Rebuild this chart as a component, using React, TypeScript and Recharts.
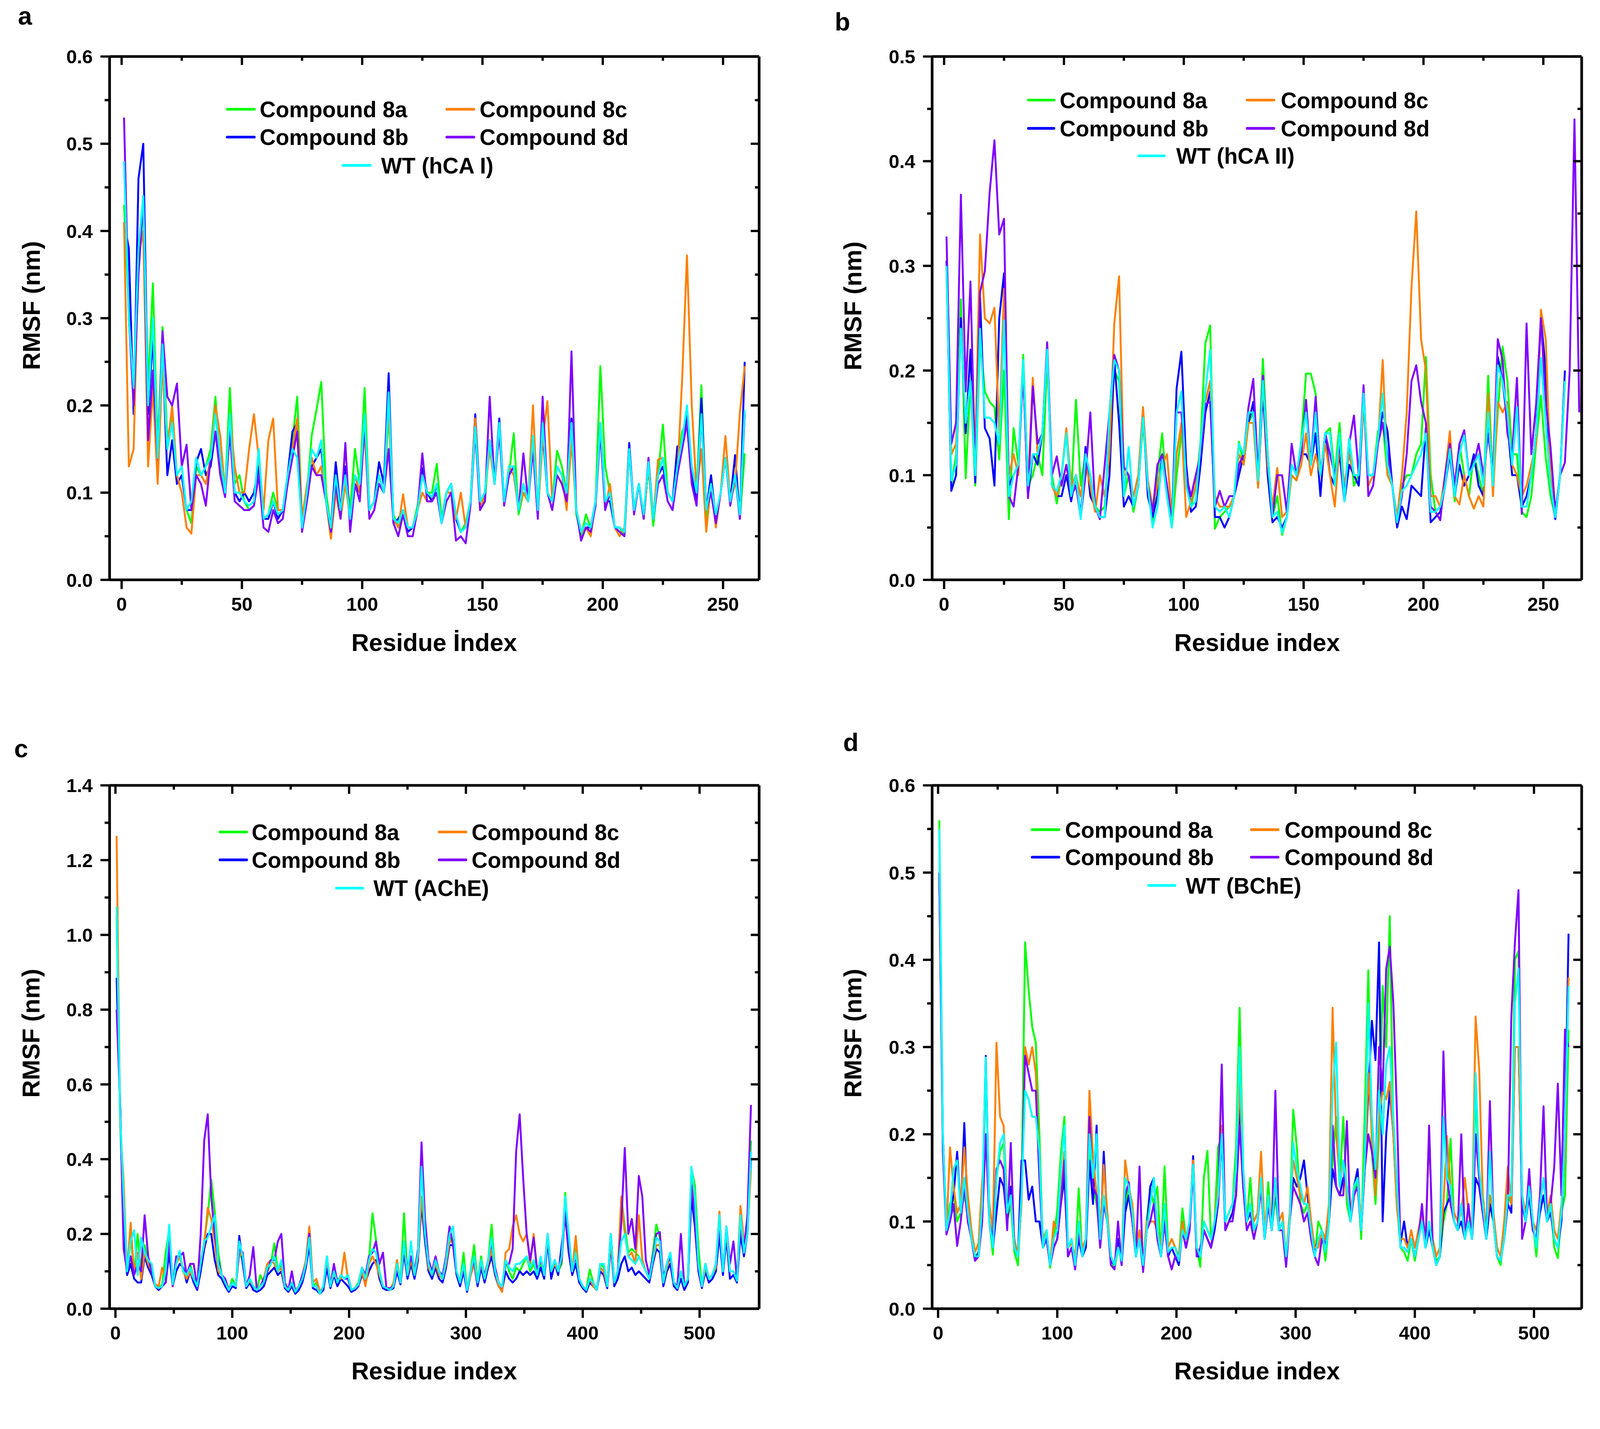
import React from 'react';
import { LineChart, Line, XAxis, YAxis } from 'recharts';

const FONT = '"Liberation Sans", Arial, Helvetica, sans-serif';
const COL_8A = '#00FF00';
const COL_8B = '#0000FF';
const COL_8C = '#FF8000';
const COL_8D = '#8000FF';
const COL_WT = '#00FFFF';

// ---------- Panel a : hCA I (residues 1,3,5,... step 2) ----------
const hcaI_start = 1;
const hcaI_step = 2;
const hcaI_8a = [
.43,.31,.20,.35,.43,.22,.34,.15,.29,.16,
.19,.11,.12,.08,.065,.13,.12,.13,.15,.21,
.13,.10,.22,.11,.12,.09,.08,.085,.14,.07,
.075,.10,.08,.08,.115,.16,.21,.07,.10,.165,
.195,.227,.10,.06,.13,.08,.13,.08,.15,.11,
.22,.08,.09,.11,.10,.19,.075,.06,.08,.055,
.06,.085,.12,.10,.10,.133,.07,.10,.11,.07,
.055,.065,.09,.17,.085,.09,.16,.11,.17,.09,
.12,.168,.075,.10,.09,.165,.08,.17,.10,.09,
.148,.13,.10,.17,.075,.05,.075,.06,.09,.245,
.13,.10,.06,.06,.05,.15,.08,.11,.075,.13,
.062,.12,.178,.10,.09,.13,.17,.18,.12,.10,
.223,.07,.11,.07,.10,.14,.09,.12,.07,.145];
const hcaI_8b = [
.41,.38,.19,.46,.50,.19,.28,.13,.26,.12,
.16,.11,.12,.08,.08,.135,.15,.12,.13,.17,
.14,.10,.17,.10,.09,.10,.09,.10,.13,.07,
.07,.09,.07,.08,.12,.17,.18,.06,.09,.13,
.14,.15,.09,.06,.135,.08,.13,.07,.11,.10,
.18,.08,.09,.135,.11,.237,.065,.07,.08,.055,
.06,.08,.128,.10,.09,.11,.065,.10,.11,.07,
.055,.06,.09,.19,.09,.10,.16,.11,.185,.09,
.12,.13,.08,.11,.09,.16,.08,.17,.10,.09,
.13,.12,.10,.185,.08,.055,.06,.06,.09,.18,
.09,.09,.06,.06,.055,.157,.08,.11,.07,.13,
.07,.12,.13,.10,.09,.153,.15,.19,.12,.09,
.208,.08,.12,.07,.10,.14,.09,.143,.07,.25];
const hcaI_8c = [
.41,.13,.15,.37,.40,.13,.22,.11,.25,.15,
.20,.12,.10,.06,.053,.12,.12,.11,.14,.20,
.165,.10,.19,.13,.10,.10,.15,.19,.14,.08,
.16,.185,.08,.08,.11,.15,.185,.07,.108,.14,
.12,.13,.09,.047,.10,.07,.11,.07,.12,.10,
.17,.07,.08,.12,.10,.20,.07,.06,.098,.06,
.06,.08,.10,.09,.09,.10,.065,.10,.10,.07,
.10,.06,.09,.185,.08,.10,.15,.11,.17,.09,
.13,.12,.08,.10,.09,.20,.075,.16,.205,.09,
.13,.12,.08,.16,.08,.055,.06,.05,.09,.18,
.08,.11,.06,.05,.06,.15,.08,.11,.07,.13,
.07,.138,.14,.10,.09,.12,.23,.372,.20,.10,
.15,.055,.11,.06,.10,.165,.09,.11,.192,.245];
const hcaI_8d = [
.53,.30,.20,.35,.44,.16,.24,.14,.285,.21,
.20,.225,.13,.155,.08,.12,.11,.085,.14,.17,
.12,.095,.17,.09,.085,.08,.08,.085,.12,.06,
.055,.08,.065,.07,.11,.14,.17,.055,.09,.13,
.12,.12,.09,.055,.11,.07,.157,.055,.11,.09,
.18,.07,.08,.11,.10,.15,.065,.05,.075,.05,
.05,.08,.145,.09,.09,.10,.065,.09,.10,.045,
.05,.042,.085,.17,.08,.09,.21,.11,.17,.085,
.12,.13,.08,.145,.09,.15,.07,.21,.10,.08,
.12,.11,.09,.262,.08,.045,.06,.055,.085,.17,
.08,.10,.06,.055,.05,.15,.075,.11,.07,.14,
.07,.11,.12,.09,.08,.12,.15,.18,.11,.085,
.19,.08,.10,.065,.10,.14,.085,.12,.07,.19];
const hcaI_WT = [
.48,.30,.22,.38,.44,.20,.30,.14,.27,.15,
.18,.12,.13,.08,.09,.14,.12,.13,.14,.19,
.14,.10,.19,.10,.10,.09,.085,.09,.15,.07,
.075,.09,.075,.08,.12,.15,.14,.06,.10,.15,
.14,.16,.09,.06,.12,.08,.12,.07,.12,.11,
.19,.08,.09,.12,.10,.215,.07,.065,.08,.06,
.06,.08,.12,.10,.095,.11,.065,.10,.11,.075,
.055,.06,.09,.175,.09,.10,.16,.11,.18,.09,
.13,.13,.08,.11,.09,.165,.08,.18,.10,.09,
.13,.12,.10,.18,.08,.055,.065,.06,.09,.18,
.09,.10,.06,.06,.055,.15,.08,.11,.075,.135,
.07,.12,.14,.10,.09,.13,.16,.20,.13,.10,
.19,.08,.11,.075,.10,.14,.09,.12,.075,.195];

// ---------- Panel b : hCA II (residues 1,3,5,... step 2) ----------
const hcaII_start = 1;
const hcaII_step = 2;
const hcaII_8a = [
.30,.09,.12,.268,.097,.19,.09,.23,.18,.17,
.165,.115,.20,.058,.145,.11,.215,.09,.10,.12,
.10,.21,.10,.073,.10,.14,.08,.172,.09,.12,
.10,.07,.065,.07,.14,.20,.19,.08,.10,.065,
.09,.15,.09,.055,.10,.14,.08,.05,.10,.14,
.10,.07,.09,.132,.226,.243,.049,.06,.065,.07,
.08,.132,.11,.15,.16,.10,.211,.12,.06,.08,
.043,.06,.10,.095,.133,.197,.197,.178,.10,.14,
.145,.10,.15,.08,.135,.09,.10,.18,.10,.10,
.142,.15,.10,.09,.055,.09,.10,.10,.12,.13,
.213,.10,.065,.07,.09,.13,.075,.13,.10,.08,
.12,.10,.08,.195,.09,.16,.223,.19,.12,.12,
.065,.06,.08,.13,.176,.117,.08,.06,.10,.19];
const hcaII_8b = [
.305,.085,.10,.25,.14,.22,.093,.27,.145,.135,
.09,.25,.293,.09,.10,.11,.20,.08,.12,.11,
.14,.22,.09,.08,.08,.10,.075,.10,.06,.127,
.08,.07,.06,.06,.10,.21,.15,.07,.08,.07,
.09,.16,.08,.06,.08,.12,.08,.055,.183,.218,
.11,.065,.07,.11,.16,.18,.06,.06,.05,.06,
.08,.10,.12,.15,.17,.09,.18,.10,.055,.06,
.05,.06,.11,.10,.12,.12,.11,.14,.08,.14,
.10,.09,.12,.075,.11,.10,.09,.17,.10,.10,
.13,.16,.142,.09,.05,.07,.058,.09,.085,.08,
.145,.055,.06,.065,.09,.12,.08,.11,.09,.10,
.12,.09,.08,.16,.09,.213,.19,.15,.10,.10,
.07,.08,.10,.14,.25,.20,.09,.058,.10,.20];
const hcaII_8c = [
.30,.12,.13,.24,.15,.19,.12,.33,.25,.245,
.26,.14,.278,.10,.12,.10,.21,.09,.193,.12,
.14,.22,.09,.08,.10,.145,.09,.10,.08,.11,
.09,.065,.10,.08,.12,.245,.29,.10,.10,.08,
.10,.165,.095,.07,.09,.11,.12,.06,.12,.15,
.06,.075,.09,.13,.17,.19,.08,.07,.07,.07,
.08,.12,.11,.15,.15,.088,.19,.11,.07,.107,
.06,.065,.10,.095,.11,.14,.10,.12,.10,.13,
.10,.07,.13,.09,.12,.10,.10,.17,.09,.10,
.13,.21,.10,.09,.06,.10,.16,.28,.352,.23,
.20,.08,.08,.07,.10,.142,.08,.072,.10,.08,
.068,.08,.07,.178,.08,.17,.16,.17,.11,.10,
.08,.09,.11,.13,.258,.23,.10,.065,.10,.19];
const hcaII_8d = [
.328,.13,.15,.368,.18,.285,.10,.275,.295,.37,
.42,.33,.345,.08,.07,.11,.20,.078,.185,.13,
.14,.227,.10,.118,.09,.11,.08,.09,.06,.10,
.16,.07,.058,.11,.16,.215,.20,.108,.10,.07,
.09,.155,.09,.065,.11,.12,.09,.055,.16,.16,
.10,.08,.10,.12,.168,.17,.07,.085,.07,.08,
.08,.11,.12,.165,.192,.10,.195,.12,.06,.10,
.10,.065,.13,.10,.12,.172,.11,.175,.10,.14,
.12,.10,.13,.08,.13,.157,.10,.186,.08,.09,
.13,.15,.12,.09,.055,.08,.12,.19,.205,.17,
.15,.07,.065,.057,.10,.13,.09,.13,.143,.10,
.11,.13,.10,.14,.10,.23,.21,.14,.12,.193,
.063,.245,.12,.168,.25,.17,.127,.065,.10,.112,
.20,.44,.16];
const hcaII_WT = [
.30,.095,.11,.24,.15,.19,.10,.24,.155,.155,
.15,.13,.248,.08,.10,.11,.21,.09,.12,.12,
.14,.22,.09,.085,.10,.14,.08,.10,.058,.12,
.10,.07,.06,.06,.16,.21,.20,.08,.127,.07,
.09,.155,.09,.05,.07,.115,.08,.05,.16,.18,
.09,.07,.075,.13,.18,.22,.07,.065,.07,.06,
.08,.13,.12,.16,.16,.095,.19,.12,.06,.065,
.045,.06,.11,.10,.13,.16,.11,.16,.10,.14,
.14,.09,.14,.075,.135,.10,.10,.178,.10,.10,
.135,.178,.11,.09,.055,.085,.09,.10,.11,.12,
.14,.065,.065,.07,.09,.125,.08,.12,.138,.10,
.11,.12,.09,.16,.09,.205,.19,.16,.11,.165,
.07,.07,.10,.14,.212,.15,.09,.06,.10,.19];

// ---------- Panel c : AChE (residues 1,4,7,... step 3) ----------
const ache_start = 1;
const ache_step = 3;
const ache_8a = [
1.05,.50,.25,.10,.20,.09,.20,.09,.17,.12,
.11,.06,.055,.065,.15,.21,.07,.12,.15,.10,
.08,.12,.08,.06,.12,.18,.25,.345,.26,.15,
.09,.07,.05,.08,.06,.15,.13,.06,.08,.06,
.05,.09,.07,.10,.12,.175,.10,.12,.06,.05,
.07,.045,.06,.08,.12,.19,.06,.07,.04,.06,
.13,.06,.10,.07,.09,.08,.09,.05,.055,.07,
.11,.08,.13,.255,.185,.10,.06,.055,.05,.06,
.12,.07,.255,.09,.13,.09,.15,.30,.20,.12,
.09,.13,.09,.08,.13,.19,.18,.10,.07,.15,
.05,.10,.17,.07,.14,.08,.13,.225,.10,.07,
.06,.13,.10,.08,.11,.10,.12,.14,.10,.12,
.09,.12,.09,.20,.09,.13,.10,.12,.31,.18,
.10,.16,.08,.06,.05,.105,.07,.05,.12,.11,
.06,.20,.07,.10,.30,.22,.15,.16,.15,.14,
.12,.10,.08,.15,.225,.19,.07,.12,.15,.07,
.055,.10,.06,.08,.375,.33,.165,.06,.12,.08,
.09,.12,.25,.10,.20,.10,.10,.075,.26,.15,
.22,.45];
const ache_8b = [
.885,.55,.20,.09,.12,.08,.07,.07,.14,.11,
.09,.06,.05,.06,.07,.15,.06,.10,.12,.11,
.07,.10,.07,.05,.10,.16,.20,.20,.13,.09,
.08,.06,.045,.06,.055,.195,.12,.055,.07,.05,
.045,.05,.06,.09,.10,.11,.09,.10,.055,.045,
.06,.04,.05,.07,.11,.17,.055,.05,.04,.05,
.11,.055,.09,.06,.08,.07,.06,.045,.05,.06,
.09,.07,.10,.12,.13,.08,.055,.05,.05,.055,
.10,.065,.15,.08,.12,.08,.13,.28,.18,.10,
.08,.11,.08,.07,.11,.17,.17,.09,.06,.10,
.045,.09,.12,.06,.11,.07,.11,.14,.09,.06,
.05,.10,.08,.07,.08,.10,.09,.10,.09,.10,
.08,.11,.08,.18,.08,.12,.09,.17,.25,.15,
.09,.12,.07,.055,.045,.07,.06,.05,.10,.09,
.055,.17,.06,.08,.12,.14,.10,.11,.09,.10,
.09,.08,.07,.12,.16,.15,.06,.10,.12,.06,
.05,.08,.05,.07,.30,.22,.10,.055,.10,.07,
.08,.10,.20,.09,.19,.08,.09,.07,.20,.14,
.20,.40];
const ache_8c = [
1.265,.50,.34,.10,.23,.09,.15,.08,.15,.12,
.10,.065,.06,.11,.08,.22,.06,.12,.14,.10,
.08,.10,.08,.06,.13,.17,.27,.24,.18,.10,
.09,.07,.05,.07,.06,.15,.14,.06,.075,.06,
.05,.06,.08,.12,.13,.12,.10,.11,.06,.05,
.07,.05,.06,.09,.13,.22,.07,.08,.045,.06,
.13,.07,.09,.08,.08,.15,.08,.05,.055,.06,
.10,.06,.12,.14,.12,.09,.06,.055,.05,.07,
.13,.07,.17,.09,.13,.09,.14,.30,.20,.11,
.09,.12,.09,.08,.12,.18,.18,.10,.07,.11,
.05,.09,.12,.07,.12,.08,.12,.16,.10,.06,
.045,.15,.16,.22,.25,.20,.18,.20,.12,.20,
.10,.13,.10,.19,.10,.12,.10,.13,.27,.17,
.10,.195,.08,.06,.05,.08,.06,.05,.11,.10,
.06,.18,.07,.10,.30,.20,.14,.15,.12,.25,
.13,.10,.08,.13,.17,.17,.07,.11,.14,.07,
.055,.10,.06,.08,.35,.25,.11,.06,.11,.08,
.09,.11,.26,.10,.21,.10,.10,.08,.275,.18,
.21,.37];
const ache_8d = [
.80,.55,.16,.10,.14,.09,.12,.10,.25,.14,
.10,.06,.055,.06,.07,.18,.06,.14,.14,.15,
.09,.12,.12,.055,.20,.45,.52,.30,.20,.13,
.09,.08,.05,.07,.06,.16,.15,.06,.09,.165,
.05,.06,.08,.10,.13,.13,.18,.20,.07,.05,
.10,.045,.06,.09,.12,.20,.06,.06,.04,.06,
.14,.06,.12,.07,.09,.08,.08,.05,.055,.06,
.11,.09,.14,.15,.18,.12,.15,.055,.055,.06,
.11,.07,.18,.10,.14,.10,.16,.445,.24,.13,
.10,.14,.10,.09,.14,.22,.17,.10,.07,.11,
.05,.10,.13,.07,.12,.09,.13,.18,.11,.07,
.06,.12,.12,.16,.42,.52,.35,.20,.13,.19,
.10,.13,.10,.20,.10,.13,.10,.13,.27,.17,
.10,.14,.08,.06,.05,.08,.07,.05,.12,.12,
.06,.20,.07,.10,.23,.43,.20,.24,.16,.355,
.30,.13,.09,.14,.20,.205,.08,.12,.14,.07,
.06,.20,.06,.08,.33,.25,.11,.06,.12,.08,
.09,.12,.22,.10,.22,.12,.18,.08,.22,.16,
.25,.545];
const ache_WT = [
1.075,.52,.30,.10,.18,.21,.09,.19,.15,.13,
.12,.06,.055,.06,.10,.225,.065,.12,.155,.10,
.09,.11,.08,.06,.12,.18,.19,.22,.25,.12,
.09,.07,.05,.07,.06,.18,.14,.06,.08,.06,
.05,.06,.07,.11,.12,.14,.10,.13,.06,.05,
.07,.045,.06,.08,.12,.19,.06,.06,.04,.06,
.14,.06,.10,.07,.09,.08,.09,.05,.055,.065,
.11,.08,.13,.16,.15,.10,.06,.055,.05,.06,
.12,.07,.18,.09,.18,.09,.15,.38,.20,.12,
.09,.13,.10,.08,.13,.20,.22,.10,.07,.12,
.05,.10,.14,.07,.13,.08,.13,.19,.10,.07,
.06,.13,.11,.10,.12,.12,.13,.14,.11,.13,
.09,.14,.09,.20,.10,.13,.10,.14,.30,.20,
.10,.15,.08,.06,.05,.08,.07,.05,.12,.12,
.06,.20,.07,.10,.18,.20,.14,.13,.12,.14,
.12,.10,.08,.13,.19,.18,.07,.12,.15,.07,
.055,.10,.06,.08,.38,.30,.12,.06,.12,.08,
.09,.12,.25,.10,.22,.10,.10,.075,.25,.15,
.20,.42];

// ---------- Panel d : BChE (residues 1,4,7,... step 3) ----------
const bche_start = 1;
const bche_step = 3;
const bche_8a = [
.56,.20,.09,.12,.13,.10,.11,.13,.11,.08,
.06,.065,.10,.28,.10,.062,.15,.18,.19,.10,
.12,.065,.05,.13,.42,.365,.323,.305,.20,.07,
.09,.047,.08,.113,.178,.22,.07,.08,.05,.138,
.06,.08,.19,.14,.12,.08,.12,.10,.06,.045,
.07,.055,.12,.14,.11,.06,.08,.05,.10,.138,
.12,.14,.06,.163,.07,.08,.07,.06,.115,.08,
.10,.16,.07,.048,.15,.181,.08,.10,.185,.20,
.10,.11,.12,.185,.345,.16,.10,.15,.09,.10,
.15,.08,.145,.09,.13,.09,.10,.06,.10,.228,
.185,.12,.11,.12,.08,.06,.10,.09,.055,.10,
.17,.22,.14,.22,.12,.10,.13,.15,.08,.225,
.388,.18,.12,.20,.37,.30,.45,.20,.12,.07,
.065,.055,.08,.055,.08,.10,.07,.09,.07,.055,
.06,.10,.12,.195,.10,.09,.12,.08,.10,.08,
.25,.15,.12,.08,.12,.10,.06,.05,.09,.13,
.12,.40,.41,.13,.11,.14,.10,.06,.12,.15,
.10,.12,.07,.058,.11,.13,.32];
const bche_8b = [
.50,.20,.09,.11,.13,.18,.11,.213,.10,.08,
.055,.065,.11,.29,.10,.07,.11,.15,.14,.10,
.14,.07,.06,.17,.17,.125,.14,.10,.10,.07,
.08,.05,.07,.08,.12,.15,.06,.07,.05,.08,
.06,.07,.17,.12,.21,.07,.18,.10,.055,.05,
.08,.05,.11,.13,.10,.06,.08,.045,.09,.14,
.15,.08,.06,.10,.06,.07,.06,.05,.09,.07,
.09,.175,.06,.06,.09,.08,.07,.09,.12,.20,
.09,.10,.11,.13,.23,.14,.10,.11,.09,.10,
.14,.08,.12,.09,.14,.09,.10,.06,.10,.15,
.14,.15,.17,.13,.09,.065,.08,.09,.07,.10,
.16,.14,.13,.15,.14,.10,.14,.16,.09,.16,
.25,.33,.285,.42,.10,.20,.25,.20,.12,.075,
.10,.07,.08,.06,.08,.10,.07,.09,.07,.05,
.06,.11,.12,.13,.10,.09,.10,.08,.10,.08,
.15,.14,.11,.08,.12,.10,.06,.055,.08,.12,
.11,.30,.30,.12,.10,.13,.09,.08,.11,.13,
.10,.11,.08,.07,.10,.20,.43];
const bche_8c = [
.50,.20,.09,.185,.14,.11,.12,.185,.13,.09,
.065,.075,.147,.20,.12,.09,.305,.22,.21,.12,
.12,.08,.06,.12,.30,.28,.30,.27,.16,.08,
.09,.05,.10,.09,.13,.18,.07,.075,.06,.10,
.07,.08,.25,.175,.13,.08,.165,.11,.06,.05,
.07,.06,.17,.14,.12,.07,.09,.05,.10,.10,
.10,.09,.07,.11,.07,.08,.07,.06,.10,.08,
.10,.17,.07,.06,.10,.09,.08,.10,.14,.21,
.10,.11,.12,.15,.26,.15,.10,.12,.10,.11,
.18,.09,.13,.10,.14,.10,.11,.06,.11,.17,
.15,.13,.12,.14,.10,.07,.07,.09,.08,.12,
.345,.20,.15,.17,.13,.11,.14,.15,.10,.16,
.27,.20,.13,.22,.25,.24,.26,.20,.115,.08,
.08,.07,.09,.07,.09,.11,.08,.20,.08,.06,
.07,.12,.198,.14,.11,.10,.11,.15,.11,.09,
.335,.275,.13,.09,.13,.11,.07,.06,.10,.163,
.12,.30,.30,.13,.11,.14,.10,.09,.12,.15,
.11,.13,.09,.08,.12,.18,.38];
const bche_8d = [
.50,.18,.085,.10,.12,.072,.10,.14,.10,.08,
.055,.06,.10,.20,.10,.08,.16,.17,.16,.09,
.19,.07,.06,.13,.29,.27,.25,.25,.15,.07,
.08,.05,.07,.08,.12,.17,.06,.07,.045,.09,
.06,.08,.22,.14,.13,.07,.12,.10,.05,.045,
.10,.05,.13,.145,.10,.06,.163,.042,.09,.10,
.12,.08,.06,.10,.06,.045,.06,.055,.09,.07,
.09,.16,.06,.07,.09,.08,.07,.10,.12,.28,
.09,.10,.10,.13,.21,.14,.09,.10,.08,.10,
.14,.08,.12,.09,.25,.09,.09,.048,.10,.14,
.13,.12,.10,.11,.08,.06,.05,.08,.07,.10,
.21,.14,.13,.13,.215,.10,.13,.14,.09,.16,
.20,.18,.15,.30,.25,.39,.415,.35,.225,.07,
.07,.065,.08,.06,.08,.12,.07,.21,.07,.05,
.06,.295,.15,.12,.10,.09,.20,.08,.12,.08,
.20,.15,.11,.08,.238,.10,.06,.055,.08,.12,
.335,.42,.48,.08,.10,.16,.09,.08,.13,.232,
.10,.12,.163,.258,.13,.32,.30];
const bche_WT = [
.55,.20,.09,.11,.16,.17,.11,.15,.11,.08,
.06,.06,.12,.288,.10,.07,.15,.19,.20,.11,
.13,.07,.06,.13,.25,.24,.22,.22,.18,.07,
.09,.05,.08,.09,.16,.21,.07,.08,.05,.10,
.06,.08,.20,.15,.20,.08,.13,.10,.06,.05,
.07,.055,.15,.14,.11,.06,.08,.05,.09,.12,
.15,.09,.06,.12,.065,.07,.07,.055,.09,.08,
.10,.165,.07,.06,.10,.09,.08,.10,.13,.20,
.10,.11,.12,.16,.30,.16,.10,.12,.09,.10,
.15,.08,.13,.09,.15,.09,.10,.06,.10,.19,
.16,.14,.12,.12,.09,.06,.08,.09,.065,.10,
.25,.305,.14,.17,.14,.10,.14,.15,.09,.17,
.35,.22,.16,.25,.20,.28,.30,.22,.14,.07,
.07,.065,.08,.06,.08,.10,.07,.10,.07,.05,
.06,.22,.15,.14,.10,.09,.12,.08,.10,.08,
.27,.16,.12,.08,.18,.10,.06,.055,.08,.13,
.13,.35,.39,.13,.10,.14,.10,.07,.12,.15,
.10,.12,.08,.07,.11,.20,.37];

// ---------- Axis ticks ----------
const xTicksHCA = [0, 25, 50, 75, 100, 125, 150, 175, 200, 225, 250];
const xMajorHCA = [0, 50, 100, 150, 200, 250];
const xTicksChE = [0, 50, 100, 150, 200, 250, 300, 350, 400, 450, 500];
const xMajorChE = [0, 100, 200, 300, 400, 500];
const yTicks06 = [0, 0.05, 0.1, 0.15, 0.2, 0.25, 0.3, 0.35, 0.4, 0.45, 0.5, 0.55, 0.6];
const yMajor06 = [0, 0.1, 0.2, 0.3, 0.4, 0.5, 0.6];
const yTicks05 = [0, 0.05, 0.1, 0.15, 0.2, 0.25, 0.3, 0.35, 0.4, 0.45, 0.5];
const yMajor05 = [0, 0.1, 0.2, 0.3, 0.4, 0.5];
const yTicks14 = [0, 0.1, 0.2, 0.3, 0.4, 0.5, 0.6, 0.7, 0.8, 0.9, 1.0, 1.1, 1.2, 1.3, 1.4];
const yMajor14 = [0, 0.2, 0.4, 0.6, 0.8, 1.0, 1.2, 1.4];

const legendNames = ['Compound 8a', 'Compound 8b', 'Compound 8c', 'Compound 8d'];

function toPoints(start: number, step: number, values: number[]) {
  return values.map((v, i) => ({ x: start + step * i, y: v }));
}

const isIn = (list: number[], v: number) => list.some((m) => Math.abs(m - v) < 1e-9);

const XTickBottom = (props: any) => {
  const { x, y, payload, majors } = props;
  const major = isIn(majors, payload.value);
  return (
    <g>
      <line x1={x} y1={y} x2={x} y2={y + (major ? 24 : 13)} stroke="#000" strokeWidth={6} />
      {major && (
        <text x={x} y={y + 81} textAnchor="middle" fontFamily={FONT} fontWeight="bold" fontSize={50} fill="#000">
          {payload.value}
        </text>
      )}
    </g>
  );
};
const XTickTop = (props: any) => {
  const { x, y, payload, majors } = props;
  const major = isIn(majors, payload.value);
  return <line x1={x} y1={y} x2={x} y2={y + (major ? 22 : 11)} stroke="#000" strokeWidth={6} />;
};
const YTickLeft = (props: any) => {
  const { x, y, payload, majors } = props;
  const major = isIn(majors, payload.value);
  return (
    <g>
      <line x1={x} y1={y} x2={x - (major ? 24 : 13)} y2={y} stroke="#000" strokeWidth={6} />
      {major && (
        <text x={x - 44} y={y + 18} textAnchor="end" fontFamily={FONT} fontWeight="bold" fontSize={50} fill="#000">
          {Number(payload.value).toFixed(1)}
        </text>
      )}
    </g>
  );
};
const YTickRight = (props: any) => {
  const { x, y, payload, majors } = props;
  const major = isIn(majors, payload.value);
  return <line x1={x} y1={y} x2={x - (major ? 22 : 11)} y2={y} stroke="#000" strokeWidth={6} />;
};

type SeriesDef = { name: string; color: string; data: { x: number; y: number }[] };

type PanelProps = {
  left: number;
  top: number;
  w: number;
  h: number;
  xDomain: [number, number];
  yDomain: [number, number];
  xTicks: number[];
  xMajor: number[];
  yTicks: number[];
  yMajor: number[];
  series: SeriesDef[];
};

const ML = 200, MT = 60, MR = 40, MB = 220;

function Panel(p: PanelProps) {
  const axisLine = { stroke: '#000', strokeWidth: 7 };
  return (
    <div style={{ position: 'absolute', left: p.left - ML, top: p.top - MT }}>
      <LineChart width={p.w + ML + MR} height={p.h + MT + MB} margin={{ top: MT - 1, right: MR - 1, bottom: MB - 120, left: 0 }}>
        <XAxis
          xAxisId="bottom"
          type="number"
          dataKey="x"
          domain={p.xDomain}
          allowDataOverflow
          ticks={p.xTicks}
          interval={0}
          height={120}
          tickSize={0}
          tickMargin={0}
          tickLine={false}
          axisLine={axisLine}
          tick={<XTickBottom majors={p.xMajor} />}
        />
        <XAxis
          xAxisId="top"
          orientation="top"
          type="number"
          dataKey="x"
          domain={p.xDomain}
          allowDataOverflow
          ticks={p.xTicks}
          interval={0}
          height={1}
          tickSize={0}
          tickMargin={0}
          tickLine={false}
          axisLine={axisLine}
          tick={<XTickTop majors={p.xMajor} />}
        />
        <YAxis
          yAxisId="left"
          type="number"
          domain={p.yDomain}
          allowDataOverflow
          ticks={p.yTicks}
          interval={0}
          width={ML}
          tickSize={0}
          tickMargin={0}
          tickLine={false}
          axisLine={axisLine}
          tick={<YTickLeft majors={p.yMajor} />}
        />
        <YAxis
          yAxisId="right"
          orientation="right"
          type="number"
          domain={p.yDomain}
          allowDataOverflow
          ticks={p.yTicks}
          interval={0}
          width={1}
          tickSize={0}
          tickMargin={0}
          tickLine={false}
          axisLine={axisLine}
          tick={<YTickRight majors={p.yMajor} />}
        />
        {p.series.map((s) => (
          <Line
            key={s.name}
            xAxisId="bottom"
            yAxisId="left"
            data={s.data}
            dataKey="y"
            name={s.name}
            type="linear"
            stroke={s.color}
            strokeWidth={5}
            strokeLinejoin="round"
            dot={false}
            activeDot={false}
            isAnimationActive={false}
          />
        ))}
      </LineChart>
    </div>
  );
}

type LegendLayout = {
  rows: [number, number, number];
  c1: [number, number, number];
  c2: [number, number, number];
  c3: [number, number, number];
  wt: string;
};

function LegendBlock({ L }: { L: LegendLayout }) {
  const items = [
    { col: L.c1, row: L.rows[0], color: COL_8A, label: legendNames[0] },
    { col: L.c2, row: L.rows[0], color: COL_8C, label: legendNames[2] },
    { col: L.c1, row: L.rows[1], color: COL_8B, label: legendNames[1] },
    { col: L.c2, row: L.rows[1], color: COL_8D, label: legendNames[3] },
    { col: L.c3, row: L.rows[2], color: COL_WT, label: L.wt },
  ];
  return (
    <g>
      {items.map((it, i) => (
        <g key={i}>
          <line x1={it.col[0]} y1={it.row} x2={it.col[1]} y2={it.row} stroke={it.color} strokeWidth={7} strokeLinecap="round" />
          <text x={it.col[2]} y={it.row + 21} fontFamily={FONT} fontWeight="bold" fontSize={58} fill="#000">
            {it.label}
          </text>
        </g>
      ))}
    </g>
  );
}

const PW = 1701;
const PH = 1370;
const PAGE_W = 4190;
const PAGE_H = 3657;

export default function App() {
  const vw = typeof window !== 'undefined' ? window.innerWidth : PAGE_W;
  const vh = typeof window !== 'undefined' ? window.innerHeight : PAGE_H;
  const scale = Math.min(1, vw / PAGE_W, vh / PAGE_H);

  const sA: SeriesDef[] = [
    { name: '8a', color: COL_8A, data: toPoints(hcaI_start, hcaI_step, hcaI_8a) },
    { name: '8b', color: COL_8B, data: toPoints(hcaI_start, hcaI_step, hcaI_8b) },
    { name: '8c', color: COL_8C, data: toPoints(hcaI_start, hcaI_step, hcaI_8c) },
    { name: '8d', color: COL_8D, data: toPoints(hcaI_start, hcaI_step, hcaI_8d) },
    { name: 'WT', color: COL_WT, data: toPoints(hcaI_start, hcaI_step, hcaI_WT) },
  ];
  const sB: SeriesDef[] = [
    { name: '8a', color: COL_8A, data: toPoints(hcaII_start, hcaII_step, hcaII_8a) },
    { name: '8b', color: COL_8B, data: toPoints(hcaII_start, hcaII_step, hcaII_8b) },
    { name: '8c', color: COL_8C, data: toPoints(hcaII_start, hcaII_step, hcaII_8c) },
    { name: '8d', color: COL_8D, data: toPoints(hcaII_start, hcaII_step, hcaII_8d) },
    { name: 'WT', color: COL_WT, data: toPoints(hcaII_start, hcaII_step, hcaII_WT) },
  ];
  const sC: SeriesDef[] = [
    { name: '8a', color: COL_8A, data: toPoints(ache_start, ache_step, ache_8a) },
    { name: '8b', color: COL_8B, data: toPoints(ache_start, ache_step, ache_8b) },
    { name: '8c', color: COL_8C, data: toPoints(ache_start, ache_step, ache_8c) },
    { name: '8d', color: COL_8D, data: toPoints(ache_start, ache_step, ache_8d) },
    { name: 'WT', color: COL_WT, data: toPoints(ache_start, ache_step, ache_WT) },
  ];
  const sD: SeriesDef[] = [
    { name: '8a', color: COL_8A, data: toPoints(bche_start, bche_step, bche_8a) },
    { name: '8b', color: COL_8B, data: toPoints(bche_start, bche_step, bche_8b) },
    { name: '8c', color: COL_8C, data: toPoints(bche_start, bche_step, bche_8c) },
    { name: '8d', color: COL_8D, data: toPoints(bche_start, bche_step, bche_8d) },
    { name: 'WT', color: COL_WT, data: toPoints(bche_start, bche_step, bche_WT) },
  ];

  const legA: LegendLayout = { rows: [286, 359, 433], c1: [595, 666, 680], c2: [1170, 1241, 1256], c3: [898, 970, 998], wt: 'WT (hCA I)' };
  const legB: LegendLayout = { rows: [262, 336, 408], c1: [2693, 2760, 2775], c2: [3266, 3336, 3354], c3: [2982, 3049, 3080], wt: 'WT (hCA II)' };
  const legC: LegendLayout = { rows: [2178, 2251, 2325], c1: [576, 646, 659], c2: [1150, 1220, 1235], c3: [881, 950, 978], wt: 'WT (AChE)' };
  const legD: LegendLayout = { rows: [2172, 2244, 2318], c1: [2703, 2773, 2789], c2: [3277, 3347, 3364], c3: [3008, 3077, 3105], wt: 'WT (BChE)' };

  const txt = { fontFamily: FONT, fontWeight: 'bold' as const, fill: '#000' };

  return (
    <div style={{ position: 'fixed', left: 0, top: 0, right: 0, bottom: 0, overflow: 'hidden', background: '#fff' }}>
      <div
        style={{
          position: 'absolute',
          left: 0,
          top: 0,
          width: PAGE_W,
          height: PAGE_H,
          background: '#fff',
          transform: `scale(${scale})`,
          transformOrigin: '0 0',
        }}
      >
        <Panel left={287} top={148} w={PW} h={PH} xDomain={[-5, 265]} yDomain={[0, 0.6]} xTicks={xTicksHCA} xMajor={xMajorHCA} yTicks={yTicks06} yMajor={yMajor06} series={sA} />
        <Panel left={2441} top={148} w={PW} h={PH} xDomain={[-5, 266]} yDomain={[0, 0.5]} xTicks={xTicksHCA} xMajor={xMajorHCA} yTicks={yTicks05} yMajor={yMajor05} series={sB} />
        <Panel left={287} top={2056} w={PW} h={PH} xDomain={[-5, 551]} yDomain={[0, 1.4]} xTicks={xTicksChE} xMajor={xMajorChE} yTicks={yTicks14} yMajor={yMajor14} series={sC} />
        <Panel left={2441} top={2056} w={PW} h={PH} xDomain={[-5, 540]} yDomain={[0, 0.6]} xTicks={xTicksChE} xMajor={xMajorChE} yTicks={yTicks06} yMajor={yMajor06} series={sD} />
        <svg width={PAGE_W} height={PAGE_H} style={{ position: 'absolute', left: 0, top: 0, pointerEvents: 'none' }}>
          <text x={47} y={64} fontSize={66} {...txt}>a</text>
          <text x={2186} y={80} fontSize={66} {...txt}>b</text>
          <text x={37} y={1982} fontSize={66} {...txt}>c</text>
          <text x={2208} y={1966} fontSize={66} {...txt}>d</text>

          <text x={1137} y={1704} fontSize={64} textAnchor="middle" {...txt}>Residue İndex</text>
          <text x={3292} y={1704} fontSize={64} textAnchor="middle" {...txt}>Residue index</text>
          <text x={1137} y={3611} fontSize={64} textAnchor="middle" {...txt}>Residue index</text>
          <text x={3292} y={3611} fontSize={64} textAnchor="middle" {...txt}>Residue index</text>

          <text transform="translate(104,800) rotate(-90)" fontSize={64} textAnchor="middle" {...txt}>RMSF (nm)</text>
          <text transform="translate(2256,801) rotate(-90)" fontSize={64} textAnchor="middle" {...txt}>RMSF (nm)</text>
          <text transform="translate(103,2705) rotate(-90)" fontSize={64} textAnchor="middle" {...txt}>RMSF (nm)</text>
          <text transform="translate(2256,2705) rotate(-90)" fontSize={64} textAnchor="middle" {...txt}>RMSF (nm)</text>

          <LegendBlock L={legA} />
          <LegendBlock L={legB} />
          <LegendBlock L={legC} />
          <LegendBlock L={legD} />
        </svg>
      </div>
    </div>
  );
}
